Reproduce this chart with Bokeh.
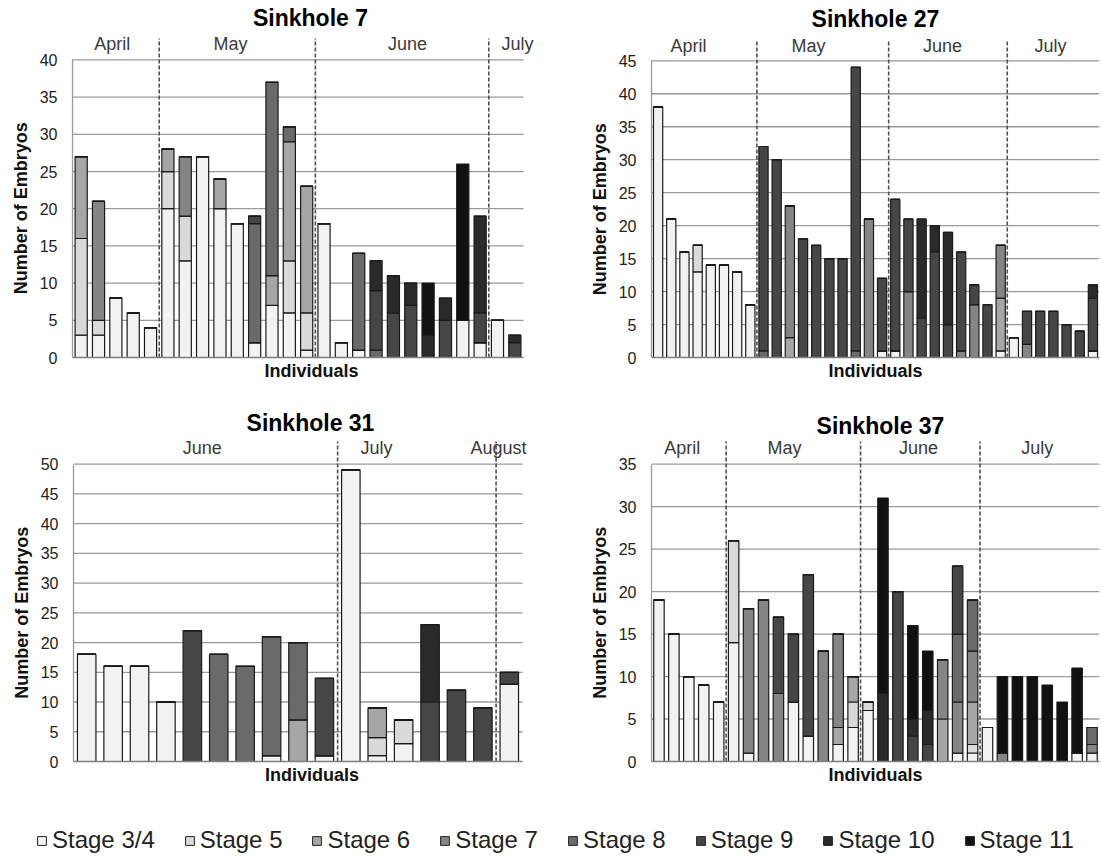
import math
from bokeh.plotting import figure
from bokeh.models import Range1d, FixedTicker, Title, Legend, LegendItem, ColumnDataSource
from bokeh.layouts import column, row
from bokeh.embed import file_html
from bokeh.resources import INLINE
from bokeh.core.properties import value

# ---------------- data ----------------
STAGES = ["Stage 3/4", "Stage 5", "Stage 6", "Stage 7", "Stage 8", "Stage 9", "Stage 10", "Stage 11"]
KEYS = ["s34", "s5", "s6", "s7", "s8", "s9", "s10", "s11"]

# Sinkhole 7 (26 individuals)
SK7 = dict(
    s34=[3, 3, 8, 6, 4, 20, 13, 27, 20, 18, 2, 7, 6, 1, 18, 2, 1, 0, 0, 0, 0, 0, 5, 2, 5, 0],
    s5=[13, 2, 0, 0, 0, 5, 6, 0, 0, 0, 0, 0, 7, 5, 0, 0, 0, 0, 0, 0, 0, 0, 0, 0, 0, 0],
    s6=[11, 0, 0, 0, 0, 3, 0, 0, 4, 0, 0, 4, 16, 17, 0, 0, 0, 0, 0, 0, 0, 0, 0, 0, 0, 0],
    s7=[0, 16, 0, 0, 0, 0, 8, 0, 0, 0, 0, 0, 0, 0, 0, 0, 0, 0, 0, 0, 0, 0, 0, 0, 0, 0],
    s8=[0, 0, 0, 0, 0, 0, 0, 0, 0, 0, 16, 26, 2, 0, 0, 0, 13, 1, 0, 0, 0, 0, 0, 0, 0, 0],
    s9=[0, 0, 0, 0, 0, 0, 0, 0, 0, 0, 1, 0, 0, 0, 0, 0, 0, 8, 6, 7, 0, 5, 0, 4, 0, 2],
    s10=[0, 0, 0, 0, 0, 0, 0, 0, 0, 0, 0, 0, 0, 0, 0, 0, 0, 4, 5, 3, 3, 3, 0, 13, 0, 1],
    s11=[0, 0, 0, 0, 0, 0, 0, 0, 0, 0, 0, 0, 0, 0, 0, 0, 0, 0, 0, 0, 7, 0, 21, 0, 0, 0],
)
SK7_MONTHS = ["April", "May", "June", "July"]
SK7_BREAKS = [5, 14, 24]

# Sinkhole 27 (34 individuals)
SK27 = dict(
    s34=[38, 21, 16, 13, 14, 14, 13, 8, 0, 0, 0, 0, 0, 0, 0, 0, 0, 1, 1, 0, 0, 0, 0, 0, 0, 0, 1, 3, 0, 0, 0, 0, 0, 1],
    s5=[0, 0, 0, 4, 0, 0, 0, 0, 0, 0, 0, 0, 0, 0, 0, 0, 0, 0, 0, 0, 0, 0, 0, 0, 0, 0, 0, 0, 0, 0, 0, 0, 0, 0],
    s6=[0, 0, 0, 0, 0, 0, 0, 0, 0, 0, 3, 0, 0, 0, 0, 0, 0, 0, 0, 0, 0, 0, 0, 0, 0, 0, 8, 0, 0, 0, 0, 0, 0, 0],
    s7=[0, 0, 0, 0, 0, 0, 0, 0, 0, 0, 20, 0, 0, 0, 0, 0, 21, 0, 0, 10, 0, 0, 0, 1, 8, 0, 8, 0, 2, 0, 0, 0, 0, 0],
    s8=[0, 0, 0, 0, 0, 0, 0, 0, 1, 0, 0, 0, 0, 0, 0, 1, 0, 0, 0, 0, 0, 0, 0, 0, 0, 0, 0, 0, 0, 0, 0, 0, 0, 0],
    s9=[0, 0, 0, 0, 0, 0, 0, 0, 31, 30, 0, 18, 17, 15, 15, 43, 0, 11, 23, 11, 6, 16, 5, 15, 3, 8, 0, 0, 5, 7, 7, 5, 4, 8],
    s10=[0, 0, 0, 0, 0, 0, 0, 0, 0, 0, 0, 0, 0, 0, 0, 0, 0, 0, 0, 0, 15, 4, 14, 0, 0, 0, 0, 0, 0, 0, 0, 0, 0, 2],
    s11=[0] * 34,
)
SK27_MONTHS = ["April", "May", "June", "July"]
SK27_BREAKS = [8, 18, 27]

# Sinkhole 31 (17 individuals)
SK31 = dict(
    s34=[18, 16, 16, 10, 0, 0, 0, 1, 0, 1, 49, 1, 3, 0, 0, 0, 13],
    s5=[0, 0, 0, 0, 0, 0, 0, 0, 0, 0, 0, 3, 4, 0, 0, 0, 0],
    s6=[0, 0, 0, 0, 0, 0, 0, 0, 7, 0, 0, 5, 0, 0, 0, 0, 0],
    s7=[0] * 17,
    s8=[0, 0, 0, 0, 0, 18, 16, 20, 13, 0, 0, 0, 0, 0, 0, 0, 0],
    s9=[0, 0, 0, 0, 22, 0, 0, 0, 0, 13, 0, 0, 0, 10, 12, 9, 2],
    s10=[0, 0, 0, 0, 0, 0, 0, 0, 0, 0, 0, 0, 0, 13, 0, 0, 0],
    s11=[0] * 17,
)
SK31_MONTHS = ["June", "July", "August"]
SK31_BREAKS = [10, 16]

# Sinkhole 37 (30 individuals)
SK37 = dict(
    s34=[19, 15, 10, 9, 7, 14, 1, 0, 0, 7, 3, 0, 2, 4, 6, 0, 0, 0, 0, 0, 1, 1, 4, 0, 0, 0, 0, 0, 1, 1],
    s5=[0, 0, 0, 0, 0, 12, 0, 0, 0, 0, 0, 0, 0, 3, 1, 0, 0, 0, 0, 0, 0, 1, 0, 0, 0, 0, 0, 0, 0, 0],
    s6=[0, 0, 0, 0, 0, 0, 0, 0, 0, 0, 0, 0, 2, 3, 0, 0, 0, 0, 0, 5, 0, 5, 0, 0, 0, 0, 0, 0, 0, 0],
    s7=[0, 0, 0, 0, 0, 0, 17, 19, 8, 0, 0, 13, 11, 0, 0, 0, 0, 0, 0, 7, 6, 6, 0, 1, 0, 0, 0, 0, 0, 1],
    s8=[0, 0, 0, 0, 0, 0, 0, 0, 0, 0, 0, 0, 0, 0, 0, 0, 0, 0, 0, 0, 8, 6, 0, 0, 0, 0, 0, 0, 0, 2],
    s9=[0, 0, 0, 0, 0, 0, 0, 0, 9, 8, 19, 0, 0, 0, 0, 0, 20, 3, 2, 0, 8, 0, 0, 0, 0, 0, 0, 0, 0, 0],
    s10=[0, 0, 0, 0, 0, 0, 0, 0, 0, 0, 0, 0, 0, 0, 0, 8, 0, 2, 4, 0, 0, 0, 0, 0, 0, 0, 0, 0, 0, 0],
    s11=[0, 0, 0, 0, 0, 0, 0, 0, 0, 0, 0, 0, 0, 0, 0, 23, 0, 11, 7, 0, 0, 0, 0, 9, 10, 10, 9, 7, 10, 0],
)
SK37_MONTHS = ["April", "May", "June", "July"]
SK37_BREAKS = [5, 14, 22]

# ---------------- style / layout ----------------
COLORS = ["#F2F2F2", "#D9D9D9", "#A6A6A6", "#858585", "#6A6A6A", "#464646", "#2A2A2A", "#111111"]
FONT = "Liberation Sans"
YTITLE_SIZE = 18
YTITLE_EM = 9.56  # approximate length of "Number of Embryos" in em (bold Arial metrics)

# canvas geometry (px): fl/fr = data area left/right, ext = frame right (room for labels),
# ft/fb = frame top/bottom, plot_px = pixel height of 0..ymax
GEOM = {
    "sk7": dict(W=580, H=400, fl=72, fr=523, ext=550, ft=5, fb=358, plot_px=298.4,
                title_xy=(310, 18), month_y=44, month_x=[111.7, 230, 407, 517]),
    "sk27": dict(W=521, H=400, fl=71, fr=519, ext=519, ft=5, fb=357, plot_px=296.7,
                 title_xy=(295, 18), month_y=45, month_x=[108, 228, 362, 470]),
    "sk31": dict(W=580, H=400, fl=73, fr=522, ext=550, ft=5, fb=361, plot_px=297.4,
                 title_xy=(310, 22), month_y=47, month_x=[201.7, 376, 498]),
    "sk37": dict(W=521, H=400, fl=71, fr=519, ext=519, ft=5, fb=361, plot_px=297.4,
                 title_xy=(300, 25), month_y=47, month_x=[101.7, 204, 338, 456.7]),
}


def panel(data, ymax, title, months, breaks, g):
    n = len(data["s34"])
    ux = (g["fr"] - g["fl"]) / n
    uy = g["plot_px"] / ymax
    yend = (g["fb"] - g["ft"]) / uy
    xend = (g["ext"] - g["fl"]) / ux

    def dx(cx):
        return (cx - g["fl"]) / ux

    def dy(cy):
        return (g["fb"] - cy) / uy

    p = figure(width=g["W"], height=g["H"], x_range=Range1d(0, xend), y_range=Range1d(0, yend),
               output_backend="svg", toolbar_location=None, title_location=None,
               min_border_left=g["fl"], min_border_right=g["W"] - g["ext"],
               min_border_top=g["ft"], min_border_bottom=g["H"] - g["fb"])
    p.outline_line_color = None
    p.background_fill_color = "white"
    p.border_fill_color = "white"

    # axes
    p.xaxis.ticker = FixedTicker(ticks=[])
    p.xaxis.bounds = (0, n)
    p.xaxis.axis_label = "Individuals"
    p.xaxis.axis_label_text_font = FONT
    p.xaxis.axis_label_text_font_size = "18px"
    p.xaxis.axis_label_text_font_style = "bold"
    p.xaxis.axis_label_text_color = "#111111"
    p.xaxis.axis_label_standoff = 3
    p.xaxis.axis_line_color = "#7f7f7f"
    p.xaxis.axis_line_width = 1.6
    p.xaxis.major_tick_out = 0
    p.xaxis.major_tick_in = 0
    p.xaxis.major_label_standoff = 0

    ticks = list(range(0, ymax + 1, 5))
    p.yaxis.ticker = FixedTicker(ticks=ticks)
    p.yaxis.bounds = (0, ymax)
    p.yaxis.major_tick_out = 0
    p.yaxis.major_tick_in = 0
    p.yaxis.minor_tick_line_color = None
    p.yaxis.major_tick_line_color = None
    p.yaxis.major_label_standoff = 15
    p.yaxis.major_label_text_font = FONT
    p.yaxis.major_label_text_font_size = "16px"
    p.yaxis.major_label_text_color = "#222222"
    p.yaxis.axis_line_color = "#9a9a9a"
    p.yaxis.axis_line_width = 1.3

    # horizontal gridlines limited to the data area
    p.grid.visible = False
    gt = ticks[1:]
    p.segment(x0=[0] * len(gt), y0=gt, x1=[n] * len(gt), y1=gt, line_color="#9a9a9a", line_width=1.3)

    # bars
    src = ColumnDataSource(dict(x=[i + 0.5 for i in range(n)], **data))
    p.vbar_stack(KEYS, x="x", width=0.7, source=src, fill_color=COLORS,
                 line_color="#1a1a1a", line_width=1.2)

    # month dividers
    top = dy(g["month_y"] - 6)
    p.segment(x0=breaks, y0=[0] * len(breaks), x1=breaks, y1=[top] * len(breaks),
              line_color="#505050", line_width=1.6, line_dash="4 2")

    # month labels
    p.text(x=[dx(v) for v in g["month_x"]], y=[dy(g["month_y"])] * len(months), text=months,
           text_font=value(FONT), text_font_size="18px", text_color="#3a3a3a",
           text_align="center", text_baseline="middle")

    # title
    tx, ty = g["title_xy"]
    p.text(x=[dx(tx)], y=[dy(ty)], text=[title], text_font=value(FONT), text_font_size="23px",
           text_font_style="bold", text_color="#000000", text_align="center", text_baseline="middle")

    # y axis title, centred on the 0..ymax span (start offset measured from frame bottom)
    start = g["plot_px"] / 2 - YTITLE_EM * YTITLE_SIZE / 2
    p.add_layout(Title(text="Number of Embryos", align="left", offset=start,
                       text_font=FONT, text_font_size=f"{YTITLE_SIZE}px", text_font_style="bold",
                       text_color="#111111", standoff=11), "left")
    return p


p1 = panel(SK7, 40, "Sinkhole 7", SK7_MONTHS, SK7_BREAKS, GEOM["sk7"])
p2 = panel(SK27, 45, "Sinkhole 27", SK27_MONTHS, SK27_BREAKS, GEOM["sk27"])
p3 = panel(SK31, 50, "Sinkhole 31", SK31_MONTHS, SK31_BREAKS, GEOM["sk31"])
p4 = panel(SK37, 35, "Sinkhole 37", SK37_MONTHS, SK37_BREAKS, GEOM["sk37"])

# legend strip
leg = figure(width=1101, height=56, x_range=Range1d(0, 1), y_range=Range1d(0, 1),
             output_backend="svg", toolbar_location=None, title_location=None, min_border=0)
leg.axis.visible = False
leg.grid.visible = False
leg.outline_line_color = None
items = []
nan = float("nan")
for name, col in zip(STAGES, COLORS):
    r = leg.quad(left=[nan], right=[nan], top=[nan], bottom=[nan], fill_color=col,
                 line_color="#222222", line_width=1)
    items.append(LegendItem(label=name, renderers=[r]))
legend = Legend(items=items, orientation="horizontal", location=(36, 2), glyph_width=11, glyph_height=11,
                label_standoff=5, spacing=29, padding=0, margin=0, border_line_color=None,
                background_fill_alpha=0, label_text_font=FONT, label_text_font_size="24px",
                label_text_color="#222222", label_height=28)
leg.add_layout(legend, "center")

layout = column(row(p1, p2, spacing=0), row(p3, p4, spacing=0), leg, spacing=0)

open("out.html", "w").write(file_html(layout, INLINE))
